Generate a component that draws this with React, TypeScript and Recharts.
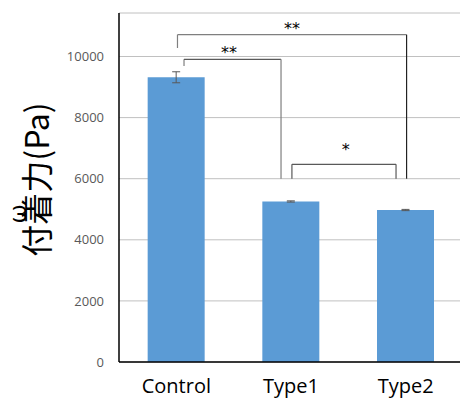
import {
  ComposedChart,
  Bar,
  XAxis,
  YAxis,
  CartesianGrid,
  ErrorBar,
  ReferenceLine,
  ReferenceDot,
} from "recharts";

const categories = ["Control", "Type1", "Type2"];
const means = [9320, 5255, 4975];
const errors = [180, 20, 20];
const yTicks = [0, 2000, 4000, 6000, 8000, 10000];

// significance brackets, in (bar index axis 0..3, Pa) units
const bracketLines = [
  { x1: 0.567, y1: 9689, x2: 0.567, y2: 9908, color: "#7f7f7f" },
  { x1: 0.567, y1: 9908, x2: 1.413, y2: 9908, color: "#595959" },
  { x1: 1.413, y1: 9908, x2: 1.413, y2: 6000, color: "#7f7f7f" },
  { x1: 0.51, y1: 10278, x2: 0.51, y2: 10714, color: "#7f7f7f" },
  { x1: 0.51, y1: 10714, x2: 2.508, y2: 10714, color: "#7f7f7f" },
  { x1: 2.508, y1: 10714, x2: 2.508, y2: 6000, color: "#222222" },
  { x1: 1.508, y1: 6000, x2: 1.508, y2: 6471, color: "#595959" },
  { x1: 1.508, y1: 6471, x2: 2.416, y2: 6471, color: "#595959" },
  { x1: 2.416, y1: 6471, x2: 2.416, y2: 6000, color: "#595959" },
];
const starLabels = [
  { x: 1.509, y: 10933, text: "**" },
  { x: 0.959, y: 10147, text: "**" },
  { x: 1.978, y: 6972, text: "*" },
];

const data = categories.map((name, i) => ({ name, pos: i + 0.5, value: means[i], err: errors[i] }));

const YTitle = (props: any) => {
  const vb = props.viewBox;
  const cx = vb.x + 35;
  const cy = vb.y + vb.height / 2 - 8;
  return (
    <g>
      <text
        x={cx}
        y={cy}
        transform={`rotate(-90 ${cx} ${cy})`}
        textAnchor="middle"
        dominantBaseline="central"
        fontFamily="'Noto Sans CJK JP', sans-serif"
        fontSize={32}
        fill="#000"
      >
        付着力(Pa)
      </text>
      <text
        x={16}
        y={214}
        transform="rotate(-90 16 214)"
        textAnchor="middle"
        dominantBaseline="central"
        fontFamily="'Noto Sans', sans-serif"
        fontSize={24}
        fill="#000"
      >
        ω
      </text>
    </g>
  );
};

export default function App() {
  return (
    <div style={{ position: "absolute", left: 0, top: 0, width: 460, height: 399, overflow: "hidden", background: "#fff" }}>
      <ComposedChart
        width={463}
        height={399}
        data={data}
        margin={{ top: 13, right: 0, left: 0, bottom: 0 }}
        barCategoryGap="25%"
      >
        <CartesianGrid vertical={false} stroke="#c0c0c0" />
        <XAxis
          dataKey="name"
          height={37}
          tickLine={false}
          tickSize={0}
          tickMargin={17}
          axisLine={{ stroke: "#000", strokeWidth: 1.5 }}
          tick={{ fontSize: 20, fill: "#000", fontFamily: "'Open Sans', sans-serif" }}
        />
        <XAxis
          xAxisId="top"
          dataKey="name"
          orientation="top"
          height={0}
          tick={false}
          tickLine={false}
          axisLine={{ stroke: "#000", strokeWidth: 1.5 }}
        />
        <XAxis xAxisId="n" dataKey="pos" type="number" scale="linear" domain={[0, 3]} allowDataOverflow hide />
        <YAxis
          width={119}
          domain={[0, 11424]}
          ticks={yTicks}
          tickLine={false}
          tickSize={0}
          tickMargin={15}
          axisLine={{ stroke: "#000", strokeWidth: 1.5 }}
          tick={{ fontSize: 13, fill: "#595959", fontFamily: "'Open Sans', sans-serif" }}
          label={<YTitle />}
        />
        <Bar dataKey="value" fill="#5b9bd5" isAnimationActive={false}>
          <ErrorBar dataKey="err" width={4} stroke="#595959" strokeWidth={1} direction="y" />
        </Bar>
        {bracketLines.map((b, i) => (
          <ReferenceLine
            key={i}
            xAxisId="n"
            segment={[
              { x: b.x1, y: b.y1 },
              { x: b.x2, y: b.y2 },
            ]}
            stroke={b.color}
            strokeWidth={1.2}
            ifOverflow="visible"
          />
        ))}
        {starLabels.map((s, i) => (
          <ReferenceDot
            key={i}
            xAxisId="n"
            x={s.x}
            y={s.y}
            r={0}
            stroke="none"
            fill="none"
            ifOverflow="visible"
            label={{ value: s.text, position: "center", fontSize: 16, fill: "#000", stroke: "none", fontFamily: "'DejaVu Sans', sans-serif" }}
          />
        ))}
      </ComposedChart>
    </div>
  );
}
